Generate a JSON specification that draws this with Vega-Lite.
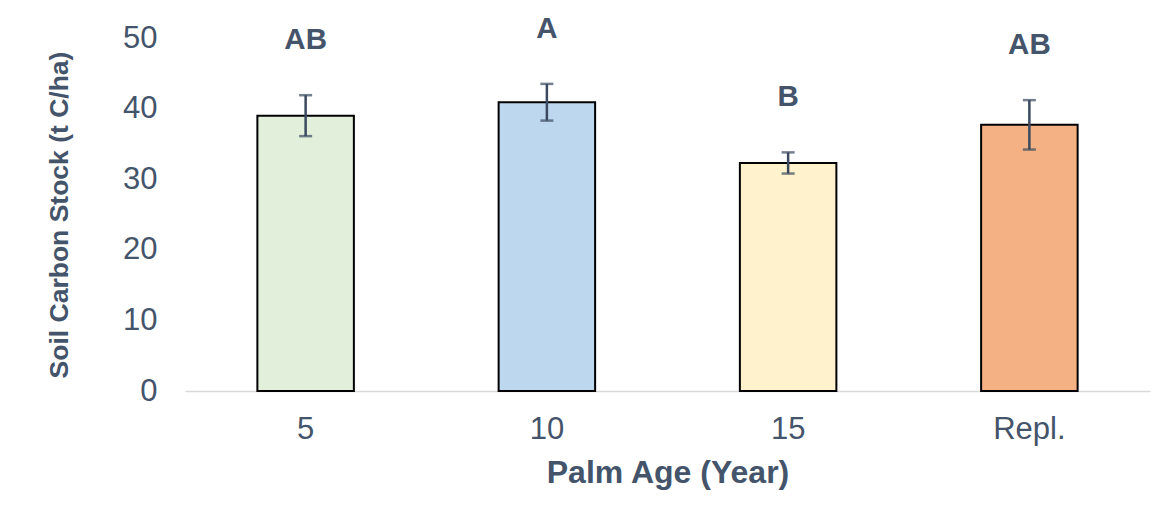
{
  "$schema": "https://vega.github.io/schema/vega-lite/v6.json",
  "width": 965,
  "height": 353,
  "autosize": "none",
  "padding": {"left": 185, "top": 38, "right": 20, "bottom": 129},
  "background": "white",
  "config": {
    "view": {"stroke": null},
    "font": "Liberation Sans"
  },
  "data": {
    "values": [
      {"age": "5", "mean": 39.0, "se": 2.9, "group": "AB", "fill": "#E2EFDA"},
      {"age": "10", "mean": 40.9, "se": 2.6, "group": "A", "fill": "#BDD7EE"},
      {"age": "15", "mean": 32.3, "se": 1.5, "group": "B", "fill": "#FFF2CC"},
      {"age": "Repl.", "mean": 37.7, "se": 3.5, "group": "AB", "fill": "#F4B183"}
    ]
  },
  "transform": [
    {"calculate": "datum.mean - datum.se", "as": "lower"},
    {"calculate": "datum.mean + datum.se", "as": "upper"}
  ],
  "encoding": {
    "x": {
      "field": "age",
      "type": "nominal",
      "sort": null,
      "scale": {"paddingInner": 0.6, "paddingOuter": 0.3},
      "axis": {
        "title": "Palm Age (Year)",
        "titleFont": "Liberation Sans",
        "titleFontSize": 32,
        "titleFontWeight": "bold",
        "titleColor": "#44546A",
        "titlePadding": 13,
        "labelAngle": 0,
        "labelFontSize": 31,
        "labelColor": "#44546A",
        "labelPadding": 23,
        "ticks": false,
        "domainColor": "#D9D9D9",
        "domainWidth": 1.5
      }
    }
  },
  "layer": [
    {
      "mark": {"type": "bar", "stroke": "#000000", "strokeWidth": 2},
      "encoding": {
        "y": {
          "field": "mean",
          "type": "quantitative",
          "scale": {"domain": [0, 50], "nice": false},
          "axis": {
            "title": "Soil Carbon Stock (t C/ha)",
            "titleFontSize": 26.5,
            "titleFontWeight": "bold",
            "titleColor": "#44546A",
            "titlePadding": 49,
            "values": [0, 10, 20, 30, 40, 50],
            "labelFontSize": 31,
            "labelColor": "#44546A",
            "labelPadding": 28,
            "ticks": false,
            "domain": false,
            "grid": false
          }
        },
        "fill": {"field": "fill", "type": "nominal", "scale": null}
      }
    },
    {
      "mark": {"type": "rule", "color": "#3B4A5E", "strokeWidth": 2.5},
      "encoding": {
        "y": {"field": "lower", "type": "quantitative"},
        "y2": {"field": "upper"}
      }
    },
    {
      "mark": {"type": "tick", "color": "#3B4A5E", "thickness": 2.5, "size": 13, "orient": "horizontal"},
      "encoding": {
        "y": {"field": "lower", "type": "quantitative"}
      }
    },
    {
      "mark": {"type": "tick", "color": "#3B4A5E", "thickness": 2.5, "size": 13, "orient": "horizontal"},
      "encoding": {
        "y": {"field": "upper", "type": "quantitative"}
      }
    },
    {
      "mark": {
        "type": "text",
        "fontSize": 29.5,
        "fontWeight": "bold",
        "color": "#44546A",
        "baseline": "middle",
        "dy": -55
      },
      "encoding": {
        "y": {"field": "upper", "type": "quantitative"},
        "text": {"field": "group"}
      }
    }
  ]
}
